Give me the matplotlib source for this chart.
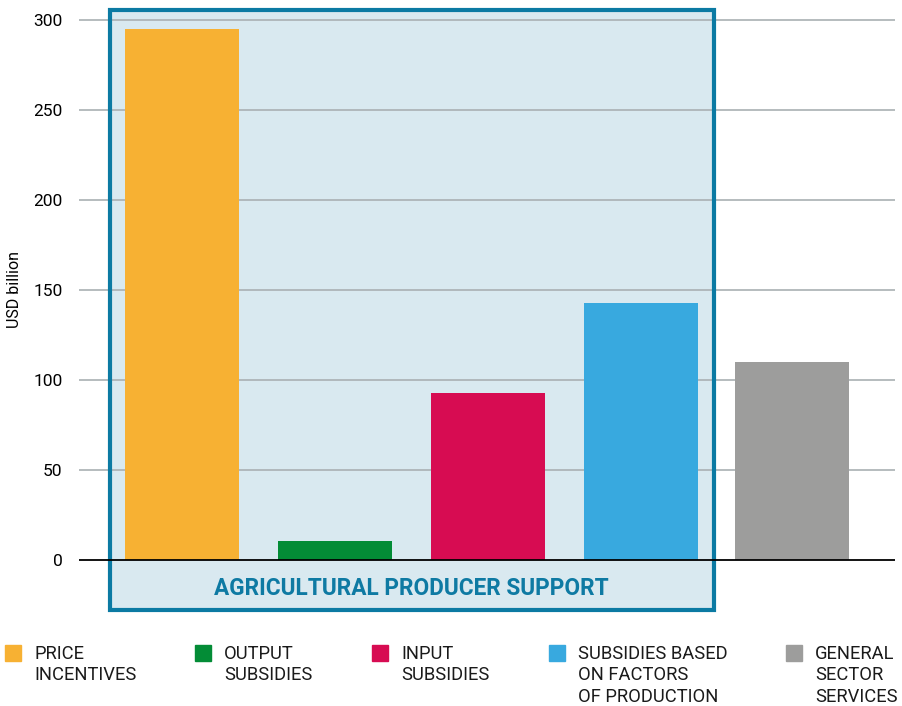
import matplotlib.pyplot as plt
from matplotlib.patches import Rectangle

plt.rcParams['font.family'] = ['Roboto', 'DejaVu Sans']

categories = ['PRICE\nINCENTIVES', 'OUTPUT\nSUBSIDIES', 'INPUT\nSUBSIDIES',
              'SUBSIDIES BASED\nON FACTORS\nOF PRODUCTION', 'GENERAL\nSECTOR\nSERVICES']
values = [295, 10.5, 93, 143, 110]
colors = ['#f7b133', '#038c36', '#d70c52', '#38a9df', '#9d9d9c']
yticks = [0, 50, 100, 150, 200, 250, 300]
box_label = 'AGRICULTURAL PRODUCER SUPPORT'

W, H = 902, 706
fig = plt.figure(figsize=(W / 100, H / 100), dpi=100)
# axes placed in pixel terms: x 79..895, y 7.4..614
ax = fig.add_axes([79 / W, 1 - 614 / H, (895 - 79) / W, (614 - 7.4) / H])
ax.set_xlim(-0.673, 4.66)
ax.set_ylim(-30, 307)

# producer support box (behind grid)
box = Rectangle((-0.471, -27.8), 3.948, 333.4, facecolor='#d9e9f0',
                edgecolor='none', zorder=0, clip_on=False)
ax.add_patch(box)
edge = Rectangle((-0.471, -27.8), 3.948, 333.4, facecolor='none',
                 edgecolor='#0b7aa3', lw=3, zorder=4, clip_on=False)
ax.add_patch(edge)

for t in yticks[1:]:
    ax.axhline(t, color='#a9b0b3', lw=1.2, zorder=1)
ax.axhline(0, color='black', lw=1.3, zorder=5)

ax.bar([0, 1, 2, 3, 3.99], values, width=0.745, color=colors, zorder=3)

ax.text(1.5, -16, box_label, ha='center', va='center', fontsize=16.3,
        fontweight='bold', color='#0e7aa3', zorder=6)

ax.set_yticks(yticks)
ax.set_yticklabels([str(t) for t in yticks], fontsize=12.5)
ax.tick_params(axis='y', length=0, pad=12)
ax.set_xticks([])
for s in ax.spines.values():
    s.set_visible(False)

fig.text(15 / W, 1 - 290 / H, 'USD billion', rotation=90, ha='center',
         va='center', fontsize=11.5)

# legend
sq_x = [5, 195, 372, 549, 786]
for i, lab in enumerate(categories):
    fig.patches.append(Rectangle((sq_x[i] / W, 1 - 661 / H), 16 / W, 16 / H,
                                 transform=fig.transFigure, color=colors[i]))
    fig.text((sq_x[i] + 29) / W, 1 - 645 / H, lab, ha='left', va='top',
             fontsize=13.2, linespacing=1.24, color='#1a1a1a')

fig.savefig('out.png', dpi=100)
